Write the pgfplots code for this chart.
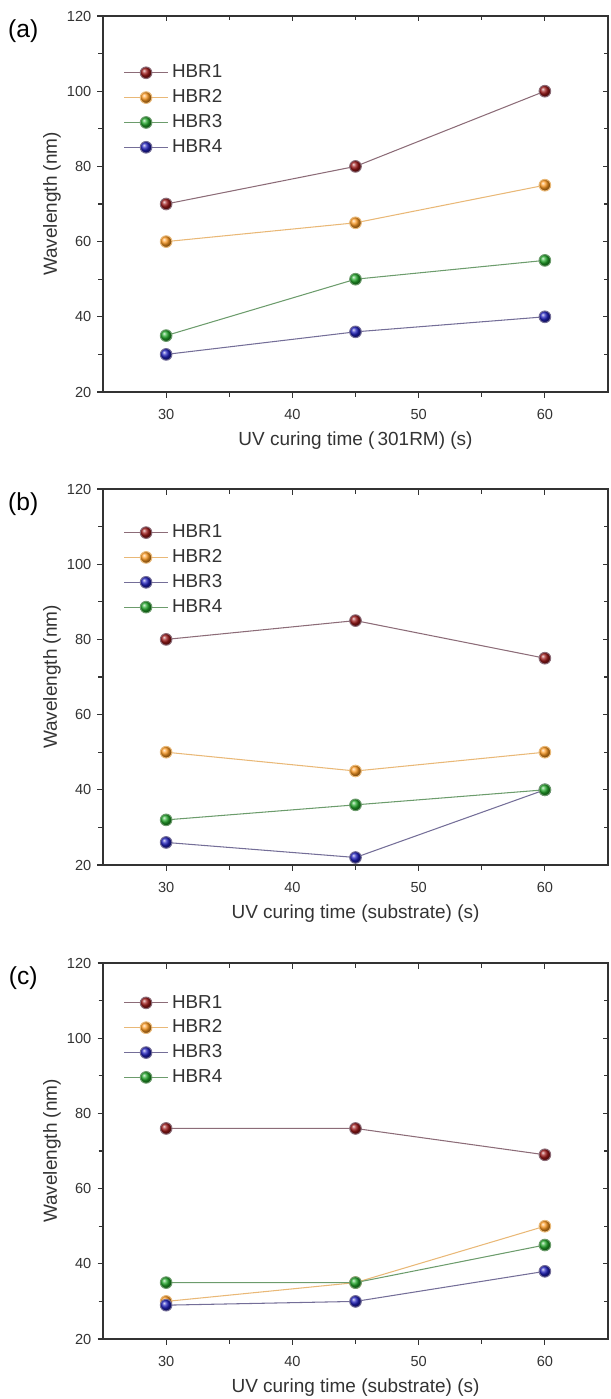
\documentclass[border=0pt]{standalone}
\usepackage{fontspec}
\setmainfont{Liberation Sans}
\usepackage{pgfplots}
\pgfplotsset{compat=1.18}

% ball colours (markers) and line colours
\definecolor{c1}{HTML}{A01818}
\definecolor{c2}{HTML}{FF9A20}
\definecolor{c3}{HTML}{22AA2A}
\definecolor{c4}{HTML}{2020C0}
\definecolor{l1}{HTML}{8C6C78}
\definecolor{l2}{HTML}{E9B877}
\definecolor{l3}{HTML}{6C9C6C}
\definecolor{l4}{HTML}{746E98}
\definecolor{axgray}{HTML}{333333}

\newcommand\ballcolor{red}
\pgfdeclareplotmark{sball}{\shade[ball color=\ballcolor] (0pt,0pt) circle (\pgfplotmarksize);}
\tikzset{ballc/.code={\def\ballcolor{#1}}}

\pgfplotsset{
  frame/.style={
    scale only axis, width=10.1cm, height=7.52cm,
    xmin=25, xmax=65, ymin=20, ymax=120,
    xtick={30,40,50,60}, ytick={20,40,...,120},
    minor x tick num=1, minor y tick num=1,
    major tick length=0.11cm, minor tick length=0.09cm,
    axis line style={axgray, line width=0.7pt},
    every tick/.style={axgray, line width=0.6pt},
  },
  panel/.style={
    frame, clip=false,
    xtick pos=bottom, ytick pos=left, tick align=outside,
    /pgf/number format/assume math mode=true,
    ticklabel style={font=\fontsize{8.3}{10}\selectfont, text=axgray},
    xticklabel style={yshift=-0.12cm},
    label style={font=\fontsize{10.8}{13}\selectfont, text=axgray},
    xlabel style={at={(axis description cs:0.5,-0.13)}, anchor=center},
    ylabel={Wavelength (nm)},
    ylabel style={at={(axis description cs:-0.101,0.5)}, anchor=center, rotate=0},
    legend cell align=left,
    legend image code/.code={\draw[mark repeat=2, mark phase=2, #1] plot coordinates {(0cm,0cm) (0.44cm,0cm) (0.88cm,0cm)};},
    legend style={draw=none, fill=none, anchor=north west, inner sep=0pt,
      font=\fontsize{10.7}{13}\selectfont, text=axgray, row sep=1.2pt,
      /tikz/every even column/.append style={column sep=0.1cm}},
  },
  mirror/.style={
    frame, xtick pos=top, ytick pos=right, tick align=inside,
    xticklabels={}, yticklabels={},
  },
  s1/.style={l1, line width=0.6pt, mark=sball, mark size=3.3pt, mark options={ballc=c1}},
  s2/.style={l2, line width=0.6pt, mark=sball, mark size=3.3pt, mark options={ballc=c2}},
  s3/.style={l3, line width=0.6pt, mark=sball, mark size=3.3pt, mark options={ballc=c3}},
  s4/.style={l4, line width=0.6pt, mark=sball, mark size=3.3pt, mark options={ballc=c4}},
}

\begin{document}
\begin{tikzpicture}
\path[use as bounding box] (0,0) rectangle (12.2,-27.98);

% ---------- (a) ----------
\begin{axis}[mirror, at={(2.06cm,-0.32cm)}, anchor=north west]
\end{axis}
\begin{axis}[panel, at={(2.06cm,-0.32cm)}, anchor=north west,
  xlabel={UV curing time (\,301RM) (s)},
  legend style={at={(rel axis cs:0.04,0.88)}}]
\addplot[s1] coordinates {(30,70) (45,80) (60,100)};
\addlegendentry{HBR1}
\addplot[s2] coordinates {(30,60) (45,65) (60,75)};
\addlegendentry{HBR2}
\addplot[s3] coordinates {(30,35) (45,50) (60,55)};
\addlegendentry{HBR3}
\addplot[s4] coordinates {(30,30) (45,36) (60,40)};
\addlegendentry{HBR4}
\node[font=\fontsize{14}{16}\selectfont, text=black] at (rel axis cs:-0.158,0.96) {(a)};
\end{axis}

% ---------- (b) ----------
\begin{axis}[mirror, at={(2.06cm,-9.78cm)}, anchor=north west]
\end{axis}
\begin{axis}[panel, at={(2.06cm,-9.78cm)}, anchor=north west,
  xlabel={UV curing time (substrate) (s)},
  legend style={at={(rel axis cs:0.04,0.915)}}]
\addplot[s1] coordinates {(30,80) (45,85) (60,75)};
\addlegendentry{HBR1}
\addplot[s2] coordinates {(30,50) (45,45) (60,50)};
\addlegendentry{HBR2}
\addplot[s4] coordinates {(30,26) (45,22) (60,40)};
\addlegendentry{HBR3}
\addplot[s3] coordinates {(30,32) (45,36) (60,40)};
\addlegendentry{HBR4}
\node[font=\fontsize{14}{16}\selectfont, text=black] at (rel axis cs:-0.158,0.96) {(b)};
\end{axis}

% ---------- (c) ----------
\begin{axis}[mirror, at={(2.06cm,-19.26cm)}, anchor=north west]
\end{axis}
\begin{axis}[panel, at={(2.06cm,-19.26cm)}, anchor=north west,
  xlabel={UV curing time (substrate) (s)},
  legend style={at={(rel axis cs:0.04,0.925)}}]
\addplot[s1] coordinates {(30,76) (45,76) (60,69)};
\addlegendentry{HBR1}
\addplot[s2] coordinates {(30,30) (45,35) (60,50)};
\addlegendentry{HBR2}
\addplot[s4] coordinates {(30,29) (45,30) (60,38)};
\addlegendentry{HBR3}
\addplot[s3] coordinates {(30,35) (45,35) (60,45)};
\addlegendentry{HBR4}
\node[font=\fontsize{14}{16}\selectfont, text=black] at (rel axis cs:-0.158,0.96) {(c)};
\end{axis}
\end{tikzpicture}
\end{document}
